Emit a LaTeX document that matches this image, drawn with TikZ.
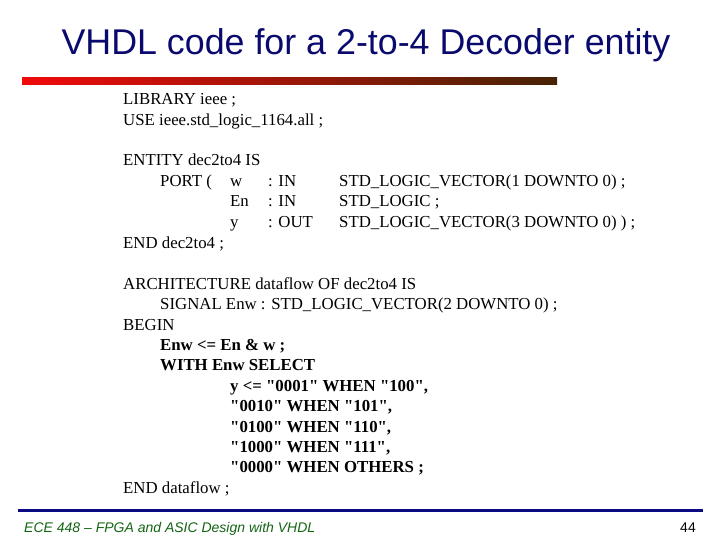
\documentclass[tikz,border=0pt]{standalone}
\usepackage{fontspec}
\setmainfont{Liberation Serif}[Ligatures=TeXOff]
\newfontfamily\sansf{Liberation Sans}
\definecolor{titleblue}{RGB}{10,10,110}
\definecolor{barred}{RGB}{240,10,10}
\definecolor{barbrown}{RGB}{70,35,5}
\definecolor{lineblue}{RGB}{10,10,130}
\definecolor{footgreen}{RGB}{20,100,20}
\begin{document}
\begin{tikzpicture}[x=1pt,y=-1pt,
  code/.style={anchor=base west,inner sep=0pt,font=\fontsize{16.8}{18}\selectfont},
  bcode/.style={code,font=\fontsize{16.8}{18}\selectfont\bfseries}]
\useasboundingbox (0,0) rectangle (720,540);
\node[inner sep=0pt,anchor=base,font=\sansf\fontsize{35.8}{40}\selectfont,text=titleblue] (title) at (366,55) {VHDL code for a 2-to-4 Decoder entity};
\shade[left color=barred, right color=barbrown] (22,78) rectangle (557,85);
\fill[lineblue] (18,509) rectangle (703,512);
\node[code] (l1) at (123,105) {LIBRARY ieee ;};
\node[code] (l2) at (123,126) {USE ieee.std\_logic\_1164.all ;};
\node[code] (l3) at (123,166) {ENTITY dec2to4 IS};
\node[code] (l4) at (160,187) {PORT (};
\node[code] (l4a) at (230,187) {w};
\node[code] (l4b) at (268,187) {: IN};
\node[code] (l4c) at (339,187) {STD\_LOGIC\_VECTOR(1 DOWNTO 0) ;};
\node[code] (l5a) at (230,207) {En};
\node[code] (l5b) at (268,207) {: IN};
\node[code] (l5c) at (339,207) {STD\_LOGIC ;};
\node[code] (l6a) at (230,228) {y};
\node[code] (l6b) at (268,228) {: OUT};
\node[code] (l6c) at (339,228) {STD\_LOGIC\_VECTOR(3 DOWNTO 0) ) ;};
\node[code] (l7) at (123,248) {END dec2to4 ;};
\node[code] (l8) at (123,289) {ARCHITECTURE dataflow OF dec2to4 IS};
\node[code] (l9) at (160,309) {SIGNAL Enw : STD\_LOGIC\_VECTOR(2 DOWNTO 0) ;};
\node[code] (l10) at (123,330) {BEGIN};
\node[bcode] (l11) at (160,350) {Enw <= En \& w ;};
\node[bcode] (l12) at (160,370) {WITH Enw SELECT};
\node[bcode] (l13) at (230,391) {y <= "0001" WHEN "100",};
\node[bcode] (l14) at (230,411) {"0010" WHEN "101",};
\node[bcode] (l15) at (230,432) {"0100" WHEN "110",};
\node[bcode] (l16) at (230,452) {"1000" WHEN "111",};
\node[bcode] (l17) at (230,472) {"0000" WHEN OTHERS ;};
\node[code] (l18) at (123,493) {END dataflow ;};
\node[anchor=base west,inner sep=0pt,font=\sansf\itshape\fontsize{14}{16}\selectfont,text=footgreen] (foot) at (24,532) {ECE 448 – FPGA and ASIC Design with VHDL};
\node[anchor=base east,inner sep=0pt,font=\sansf\fontsize{14}{16}\selectfont] (pg) at (696,532) {44};
\end{tikzpicture}
\end{document}
